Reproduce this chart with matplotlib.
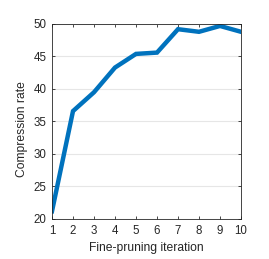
import matplotlib
matplotlib.use("Agg")
import matplotlib.pyplot as plt

iterations = [1, 2, 3, 4, 5, 6, 7, 8, 9, 10]
compression = [21.2, 36.6, 39.5, 43.3, 45.4, 45.6, 49.2, 48.8, 49.7, 48.8]
yticks = [20, 25, 30, 35, 40, 45, 50]

plt.rcParams['font.family'] = ['Liberation Sans', 'DejaVu Sans']
fig = plt.figure(figsize=(2.69, 2.59), dpi=100)
ax = fig.add_axes([52/269, 1 - 219/259, (241-52)/269, (219-24)/259])
ax.plot(iterations, compression, color='#0072BD', lw=3.2, solid_joinstyle='miter')
ax.set_xlim(1, 10)
ax.set_ylim(20, 50)
ax.set_xticks(iterations)
ax.set_yticks(yticks)
ax.yaxis.grid(True, color='#e6e6e6', lw=0.8)
ax.set_axisbelow(True)
ax.tick_params(direction='in', top=True, right=True, length=2.5, width=0.6,
               labelsize=8.3, colors='#262626', pad=4)
for s in ax.spines.values():
    s.set_color('#262626')
    s.set_linewidth(0.6)
ax.set_xlabel('Fine-pruning iteration', fontsize=8.7, color='#262626', labelpad=4)
ax.set_ylabel('Compression rate', fontsize=8.7, color='#262626')
ax.yaxis.set_label_coords(-0.125, 0.46)
fig.savefig('out.png', dpi=100)
